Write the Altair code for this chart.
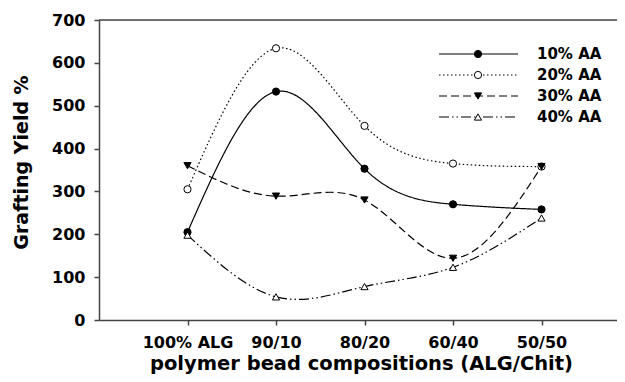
import altair as alt
import pandas as pd

categories = ["100% ALG", "90/10", "80/20", "60/40", "50/50"]
series = ["10% AA", "20% AA", "30% AA", "40% AA"]
aa10 = [205, 533, 353, 270, 258]
aa20 = [305, 634, 453, 365, 358]
aa30 = [360, 289, 280, 144, 358]
aa40 = [198, 54, 78, 123, 238]
y_ticks = [0, 100, 200, 300, 400, 500, 600, 700]

values = {"10% AA": aa10, "20% AA": aa20, "30% AA": aa30, "40% AA": aa40}
rows = []
for s in series:
    for i, c in enumerate(categories):
        rows.append({"series": s, "idx": i, "cat": c, "val": values[s][i]})
df = pd.DataFrame(rows)
leg = pd.DataFrame({"series": series})

FONT = "DejaVu Sans"
PL = 91
W, H = 609 - PL, 300
XMIN, XMAX = -1, -1 + W / 88.5
label_expr = "[" + ",".join("'%s'" % c for c in categories) + "][datum.value]"

shape_scale = alt.Scale(domain=series, range=["circle", "circle", "triangle-down", "triangle-up"])
fill_scale = alt.Scale(domain=series, range=["black", "white", "black", "white"])
size_scale = alt.Scale(domain=series, range=[52, 52, 120, 120])
dash_scale = alt.Scale(domain=series, range=[[1, 0], [1.5, 2.5], [8, 4], [10, 3, 1.5, 3, 1.5, 3]])

xscale = alt.Scale(domain=[XMIN, XMAX], nice=False, zero=False)
yscale = alt.Scale(domain=[0, 700], nice=False)

x_axis = alt.Axis(
    values=list(range(len(categories))), labelExpr=label_expr, grid=False,
    title="polymer bead compositions (ALG/Chit)", titleFont=FONT, titleFontSize=19.5,
    titleFontWeight="bold", titleColor="black", titleX=262, titleY=49,
    titleAlign="center", titleBaseline="alphabetic",
    labelFont=FONT, labelFontSize=16, labelFontWeight="bold", labelColor="black",
    labelBaseline="alphabetic", labelPadding=22, tickSize=5, tickColor="#444",
    domainColor="#444", domainWidth=1.5, tickWidth=1.5,
)
y_axis = alt.Axis(
    values=y_ticks, grid=False, title="Grafting Yield %", titleFont=FONT,
    titleFontSize=19, titleFontWeight="bold", titleColor="black", titleAngle=-90,
    titleX=-72, titleY=142, titleAlign="center", titleBaseline="alphabetic",
    labelFont=FONT, labelFontSize=16, labelFontWeight="bold", labelColor="black",
    labelPadding=9, tickSize=5, tickColor="#444", domainColor="#444",
    domainWidth=1.5, tickWidth=1.5,
)

base = alt.Chart(df)
lines = base.mark_line(interpolate="natural", color="black", strokeWidth=1.2).encode(
    x=alt.X("idx:Q", scale=xscale, axis=x_axis),
    y=alt.Y("val:Q", scale=yscale, axis=y_axis),
    detail="series:N",
    strokeDash=alt.StrokeDash("series:N", scale=dash_scale, legend=None),
)
points = base.mark_point(filled=True, stroke="black", strokeWidth=1, opacity=1).encode(
    x=alt.X("idx:Q", scale=xscale, axis=x_axis),
    y=alt.Y("val:Q", scale=yscale, axis=None),
    shape=alt.Shape("series:N", scale=shape_scale, legend=None),
    fill=alt.Fill("series:N", scale=fill_scale, legend=None),
    size=alt.Size("series:N", scale=size_scale, legend=None),
)
top = alt.Chart(pd.DataFrame({"a": [0]})).mark_rule(color="#444", strokeWidth=1.5).encode(
    x=alt.X(datum=XMIN, scale=xscale, axis=x_axis),
    x2=alt.X2(datum=XMAX),
    y=alt.Y(datum=700, scale=yscale, axis=None),
)

ly = alt.Y("series:N", scale=alt.Scale(type="point", domain=series, range=[34, 97], padding=0), axis=None)
leg_lines = alt.Chart(leg).mark_rule(color="black", strokeWidth=1.2).encode(
    x=alt.value(340), x2=alt.value(419), y=ly,
    strokeDash=alt.StrokeDash("series:N", scale=dash_scale, legend=None),
)
leg_pts = alt.Chart(leg).mark_point(filled=True, stroke="black", strokeWidth=1, opacity=1).encode(
    x=alt.value(379), y=ly,
    shape=alt.Shape("series:N", scale=shape_scale, legend=None),
    fill=alt.Fill("series:N", scale=fill_scale, legend=None),
    size=alt.Size("series:N", scale=size_scale, legend=None),
)
leg_txt = alt.Chart(leg).mark_text(
    align="left", baseline="middle", font=FONT, fontSize=15, fontWeight="bold", color="black"
).encode(x=alt.value(438), y=ly, text="series:N")

chart = alt.layer(lines, points, top, leg_lines, leg_pts, leg_txt).resolve_scale(
    y="independent"
).properties(
    width=W, height=H,
    autosize=alt.AutoSizeParams(type="none"),
    padding={"left": PL, "top": 12, "right": 0, "bottom": 54},
).configure_view(stroke=None).configure(background="white")

chart.save("out.html", embed_options={"renderer": "svg", "actions": False})
